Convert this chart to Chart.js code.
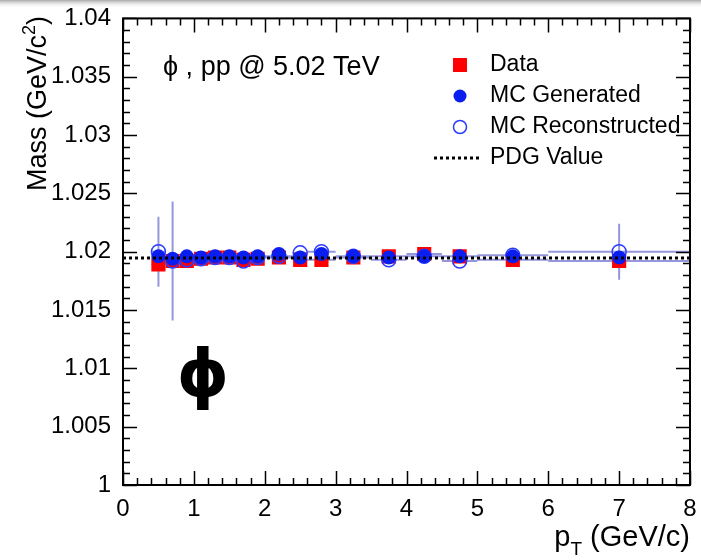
<!DOCTYPE html>
<html>
<head>
<meta charset="utf-8">
<script src="https://cdn.jsdelivr.net/npm/chart.js@4.4.0/dist/chart.umd.min.js"></script>
<style>
  html, body { margin: 0; padding: 0; background: #fff; }
  #wrap { width: 701px; height: 560px; }
</style>
</head>
<body>
<div id="wrap"><canvas id="massChart" width="701" height="560"></canvas></div>
<script>
// pT bins (GeV/c)
const ptCenters = [0.5, 0.7, 0.9, 1.1, 1.3, 1.5, 1.7, 1.9, 2.2, 2.5, 2.8, 3.25, 3.75, 4.25, 4.75, 5.5, 7.0];
const ptLow     = [0.4, 0.6, 0.8, 1.0, 1.2, 1.4, 1.6, 1.8, 2.0, 2.4, 2.6, 3.0, 3.5, 4.0, 4.5, 5.0, 6.0];
const ptHigh    = [0.6, 0.8, 1.0, 1.2, 1.4, 1.6, 1.8, 2.0, 2.4, 2.6, 3.0, 3.5, 4.0, 4.5, 5.0, 6.0, 8.0];

// phi mass (GeV/c^2)
const massData   = [1.0189, 1.0192, 1.0192, 1.0194, 1.0195, 1.0195, 1.0193, 1.0194, 1.0195, 1.0193, 1.0193, 1.0195, 1.0196, 1.0198, 1.0196, 1.0193, 1.0192];
const massMCGen  = [1.0196, 1.0194, 1.0196, 1.0195, 1.0196, 1.0196, 1.0195, 1.0196, 1.0198, 1.0195, 1.0198, 1.0196, 1.0195, 1.0196, 1.0196, 1.0196, 1.0195];
const massMCReco = [1.0200, 1.0192, 1.0193, 1.0194, 1.0195, 1.0195, 1.0192, 1.0195, 1.0196, 1.0199, 1.0200, 1.0196, 1.0193, 1.0196, 1.0192, 1.0197, 1.0200];
const errMCReco  = [0.0030, 0.0051, 0.0003, 0.0002, 0.0002, 0.0002, 0.0002, 0.0002, 0.0002, 0.0002, 0.0002, 0.0002, 0.0002, 0.0002, 0.0002, 0.0002, 0.0024];
const pdgMass = 1.019461;

// axis ranges
const xMin = 0, xMax = 8, xMajor = 1, xMinor = 0.2;
const yMin = 1, yMax = 1.04, yMajor = 0.005, yMinor = 0.001;

const FONT = 'Liberation Sans, Arial, Helvetica, sans-serif';

const toXY = (ys) => ptCenters.map((x, i) => ({ x: x, y: ys[i] }));

// grey shade along the top edge, as in the screenshot
const topShade = {
  id: 'topShade',
  beforeDraw(chart) {
    const { ctx, width } = chart;
    const g = ctx.createLinearGradient(0, 0, 0, 8);
    g.addColorStop(0, '#a8a8a8');
    g.addColorStop(1, 'rgba(255,255,255,0)');
    ctx.save();
    ctx.fillStyle = g;
    ctx.fillRect(0, 0, width, 8);
    ctx.restore();
  }
};

// error bars under the markers
const errorBars = {
  id: 'errorBars',
  beforeDatasetsDraw(chart) {
    const { ctx, scales: { x, y } } = chart;
    ctx.save();
    ctx.strokeStyle = 'rgba(105,105,205,0.7)';
    ctx.lineWidth = 2;
    ctx.beginPath();
    ptCenters.forEach((pt, i) => {
      const px = x.getPixelForValue(pt);
      // horizontal bin widths
      [massMCReco[i], massData[i]].forEach(m => {
        const py = y.getPixelForValue(m);
        ctx.moveTo(x.getPixelForValue(ptLow[i]), py);
        ctx.lineTo(x.getPixelForValue(ptHigh[i]), py);
      });
      // vertical errors
      ctx.moveTo(px, y.getPixelForValue(massMCReco[i] + errMCReco[i]));
      ctx.lineTo(px, y.getPixelForValue(massMCReco[i] - errMCReco[i]));
    });
    ctx.stroke();
    ctx.restore();
  }
};

// ROOT style frame, inward ticks, labels and legend
const rootFrame = {
  id: 'rootFrame',
  afterDraw(chart) {
    const { ctx, chartArea: a, scales: { x, y } } = chart;
    ctx.save();
    ctx.strokeStyle = '#000';
    ctx.lineWidth = 1.5;
    ctx.beginPath();
    const nx = Math.round((xMax - xMin) / xMinor);
    for (let i = 0; i <= nx; i++) {
      const v = xMin + i * xMinor;
      const px = Math.round(x.getPixelForValue(v)) + 0.5;
      const len = Math.abs(v / xMajor - Math.round(v / xMajor)) < 1e-6 ? 14 : 7;
      ctx.moveTo(px, a.bottom); ctx.lineTo(px, a.bottom - len);
      ctx.moveTo(px, a.top); ctx.lineTo(px, a.top + len);
    }
    const ny = Math.round((yMax - yMin) / yMinor);
    for (let i = 0; i <= ny; i++) {
      const v = yMin + i * yMinor;
      const py = Math.round(y.getPixelForValue(v)) + 0.5;
      const len = (i % Math.round(yMajor / yMinor) === 0) ? 14 : 7;
      ctx.moveTo(a.left, py); ctx.lineTo(a.left + len, py);
      ctx.moveTo(a.right, py); ctx.lineTo(a.right - len, py);
    }
    ctx.stroke();
    ctx.lineWidth = 2;
    ctx.strokeRect(a.left, a.top, a.right - a.left, a.bottom - a.top);

    ctx.fillStyle = '#000';
    ctx.textAlign = 'left';
    ctx.textBaseline = 'alphabetic';

    // y title, right aligned to the top, with superscript 2
    const yBig = '27px ' + FONT, ySmall = '18px ' + FONT;
    ctx.save();
    ctx.font = yBig;
    const wMass = ctx.measureText('Mass (GeV/c').width;
    const wClose = ctx.measureText(')').width;
    ctx.font = ySmall;
    const wTwo = ctx.measureText('2').width;
    ctx.translate(46, 16);
    ctx.rotate(-Math.PI / 2);
    let yx = -(wMass + wTwo + wClose);
    ctx.font = yBig; ctx.fillText('Mass (GeV/c', yx, 0); yx += wMass;
    ctx.font = ySmall; ctx.fillText('2', yx, -11); yx += wTwo;
    ctx.font = yBig; ctx.fillText(')', yx, 0);
    ctx.restore();

    // x title with subscript
    const big = '29px ' + FONT, small = '19px ' + FONT;
    ctx.font = big;
    const wTail = ctx.measureText(' (GeV/c)').width;
    const wP = ctx.measureText('p').width;
    ctx.font = small;
    const wT = ctx.measureText('T').width;
    let tx = a.right - wTail - wT - wP;
    const ty = 546;
    ctx.font = big; ctx.fillText('p', tx, ty); tx += wP;
    ctx.font = small; ctx.fillText('T', tx, ty + 9); tx += wT;
    ctx.font = big; ctx.fillText(' (GeV/c)', tx, ty);

    // annotations
    ctx.font = '27px ' + FONT;
    ctx.textBaseline = 'middle';
    ctx.fillText('\u03D5 , pp @ 5.02 TeV', 163, 68);
    ctx.font = 'bold 66px DejaVu Sans, ' + FONT;
    ctx.textAlign = 'center';
    ctx.textBaseline = 'alphabetic';
    ctx.fillText('\u03D5', 203, 396);

    // legend
    const rows = [
      { label: 'Data', kind: 'square' },
      { label: 'MC Generated', kind: 'dot' },
      { label: 'MC Reconstructed', kind: 'ring' },
      { label: 'PDG Value', kind: 'line' }
    ];
    ctx.font = '23px ' + FONT;
    ctx.textAlign = 'left';
    ctx.textBaseline = 'middle';
    rows.forEach((r, i) => {
      const cy = 65 + i * 31, cx = 460;
      if (r.kind === 'square') { ctx.fillStyle = '#f00'; ctx.fillRect(cx - 7, cy - 7, 14, 14); }
      if (r.kind === 'dot') { ctx.fillStyle = '#0a1ef0'; ctx.beginPath(); ctx.arc(cx, cy, 6.5, 0, 2 * Math.PI); ctx.fill(); }
      if (r.kind === 'ring') { ctx.strokeStyle = '#2a3cff'; ctx.lineWidth = 1.5; ctx.beginPath(); ctx.arc(cx, cy, 6.5, 0, 2 * Math.PI); ctx.stroke(); }
      if (r.kind === 'line') {
        ctx.strokeStyle = '#000'; ctx.lineWidth = 3; ctx.setLineDash([3, 3]);
        ctx.beginPath(); ctx.moveTo(434, cy); ctx.lineTo(480, cy); ctx.stroke(); ctx.setLineDash([]);
      }
      ctx.fillStyle = '#000';
      ctx.fillText(r.label, 490, cy);
    });
    ctx.restore();
  }
};

const massCtx = document.getElementById('massChart').getContext('2d');
const massChart = new Chart(massCtx, {
  type: 'scatter',
  data: {
    datasets: [
      {
        type: 'line',
        label: 'PDG Value',
        data: [{ x: xMin, y: pdgMass }, { x: xMax, y: pdgMass }],
        borderColor: '#000',
        borderWidth: 3,
        borderDash: [3, 3],
        pointRadius: 0,
        order: 0
      },
      {
        label: 'MC Generated',
        data: toXY(massMCGen),
        pointStyle: 'circle',
        pointRadius: 7,
        backgroundColor: '#0a1ef0',
        borderWidth: 0,
        order: 1
      },
      {
        label: 'MC Reconstructed',
        data: toXY(massMCReco),
        pointStyle: 'circle',
        pointRadius: 7,
        backgroundColor: 'rgba(0,0,0,0)',
        borderColor: '#2a3cff',
        borderWidth: 1.5,
        order: 2
      },
      {
        label: 'Data',
        data: toXY(massData),
        pointStyle: 'rect',
        pointRadius: 10,
        backgroundColor: '#f00',
        borderWidth: 0,
        order: 3
      }
    ]
  },
  options: {
    responsive: false,
    animation: false,
    layout: { padding: { top: 18, right: 11, left: 0, bottom: 0 } },
    plugins: {
      legend: { display: false },
      tooltip: { enabled: false }
    },
    scales: {
      x: {
        type: 'linear',
        min: xMin,
        max: xMax,
        grid: { display: false },
        border: { display: false },
        ticks: { stepSize: xMajor, color: '#000', font: { size: 24, family: FONT }, padding: 2, maxRotation: 0 },
        afterFit: (s) => { s.height = 75; }
      },
      y: {
        min: yMin,
        max: yMax,
        grid: { display: false },
        border: { display: false },
        ticks: {
          stepSize: yMajor,
          color: '#000',
          font: { size: 24, family: FONT },
          padding: 4,
          callback: (v) => String(+v.toFixed(3))
        },
        afterFit: (s) => { s.width = 123; }
      }
    }
  },
  plugins: [topShade, errorBars, rootFrame]
});
</script>
</body>
</html>
